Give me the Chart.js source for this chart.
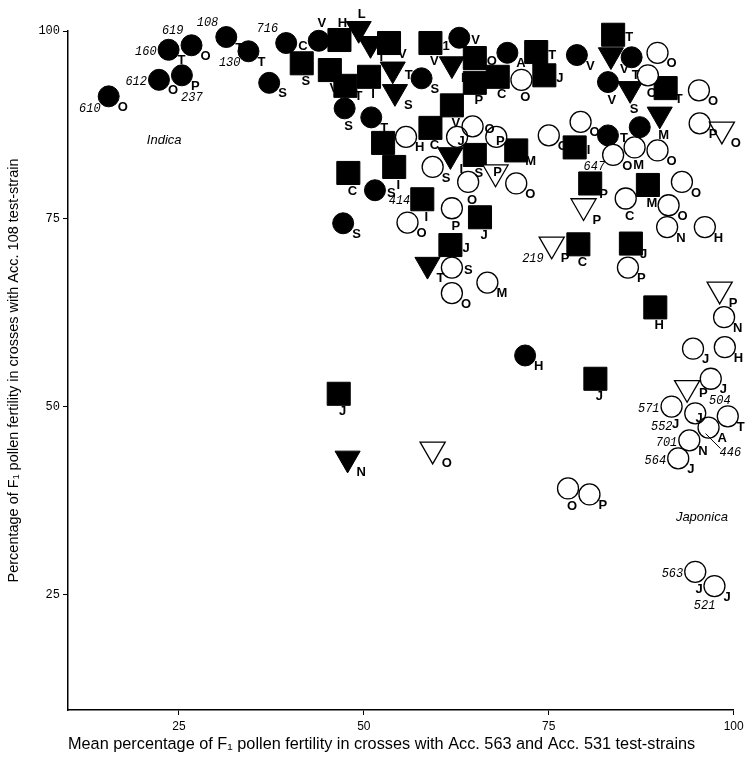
<!DOCTYPE html>
<html><head><meta charset="utf-8">
<script src="https://cdn.jsdelivr.net/npm/chart.js@4/dist/chart.umd.min.js"></script>
<style>html,body{margin:0;padding:0;background:#fff;}canvas{display:block;}</style>
</head><body>
<canvas id="c" width="751" height="764"></canvas>
<script>
// ---- data ----
const xTicks = [25, 50, 75, 100];
const yTicks = [25, 50, 75, 100];
const xTitle = 'Mean percentage of F\u2081 pollen fertility in crosses with Acc. 563 and Acc. 531 test-strains';
const yTitle = 'Percentage of F\u2081 pollen fertility in crosses with Acc. 108 test-strain';

// marker kinds: fc filled circle, fs filled square, ft filled triangle, oc open circle, ot open triangle
const xs = [15.5,22.3,23.6,26.7,25.4,31.4,34.4,37.2,39.5,41.6,43.9,46.7,49.3,50.9,53.4,45.4,47.5,50.7,53.9,54.2,
  47.4,51.0,59.0,62.9,61.9,57.8,65.0,69.4,65.0,68.1,71.3,73.3,74.4,78.8,83.7,83.4,86.2,89.7,88.4,83.0,
  86.0,90.8,95.3,90.0,87.3,95.4,98.4,61.9,64.7,52.6,55.7,59.0,62.6,67.9,70.6,79.3,75.0,78.5,83.0,86.6,
  89.7,83.7,47.9,51.5,54.1,59.3,61.7,65.0,67.8,64.1,70.6,80.6,88.4,85.4,93.0,91.2,91.0,96.1,79.7,75.4,
  79.0,86.1,85.7,57.9,55.9,61.9,65.7,47.2,61.7,58.6,61.9,61.9,66.7,98.1,89.4,98.7,94.5,98.8,71.8,81.3,
  96.9,93.7,91.6,94.8,99.2,96.6,94.0,92.5,77.6,80.5,94.8,97.4,46.6,47.8,59.3];
const ys = [91.3,93.5,97.5,98.1,94.1,99.2,97.3,93.1,98.4,95.7,98.7,98.8,100.3,98.3,98.4,94.8,92.7,93.9,94.9,91.9,
  89.7,88.5,98.4,99.1,95.6,93.7,96.4,97.1,93.1,93.9,93.5,97.2,94.1,96.8,99.5,96.8,96.5,97.1,94.1,93.2,
  92.3,92.4,92.1,88.9,87.2,87.7,86.9,90.1,87.3,85.1,85.9,87.1,85.9,85.9,84.1,87.9,86.1,84.5,86.1,84.5,
  84.1,83.5,81.1,78.8,81.9,81.9,83.5,83.5,81.2,79.9,79.7,79.7,79.5,77.7,79.9,76.8,73.9,73.9,76.7,71.6,
  71.6,71.7,68.5,77.6,74.5,76.4,75.2,74.4,71.5,68.9,68.5,65.1,66.5,65.6,63.2,61.9,57.7,57.9,56.8,53.7,
  53.7,52.5,50.0,49.1,48.7,47.2,45.5,43.1,39.1,38.3,28.0,26.1,51.7,43.1,44.3];
const kinds = ['fc','fc','fc','fc','fc','fc','fc','fc','fc','fs','fc','fs','ft','ft','fs','fs','fs','fs','ft','ft',
  'fc','fc','fs','fc','ft','fc','fs','fc','fs','fs','oc','fs','fs','fc','fs','ft','fc','oc','oc','fc',
  'ft','fs','oc','ft','fc','oc','ot','fs','oc','fs','oc','fs','oc','oc','fs','oc','oc','fs','fc','oc',
  'oc','oc','fs','fc','fs','oc','ft','fs','ot','oc','oc','fs','fs','oc','oc','oc','oc','oc','ot','ot',
  'fs','fs','oc','fs','oc','oc','fs','fc','fs','ft','oc','oc','oc','ot','fs','oc','oc','oc','fc','fs',
  'oc','ot','oc','oc','oc','oc','oc','oc','oc','oc','oc','oc','fs','ft','ot'];
// strain letters / accession numbers (italic flag 1), with placement codes
const pointLabels = [
  [['O','se'],['610','sw',1]], [['O','se'],['612','w',1]], [['T','se'],['160','w',1]], [['O','se'],['619','nw',1]],
  [['P','se'],['237','s2',1]], [['T','se'],['108','nw',1]], [['T','se'],['130','sw',1]], [['S','se']],
  [['C','e'],['716','nw',1]], [['S','s']], [['V','n']], [['H','n']], [['L','n']], [['I','se']], [['V','se']],
  [['V','s']], [['T','se']], [['I','s']], [['T','e']], [['S','se']],
  [['S','s']], [['T','se']], [['1','e'],['V','s']], [['V','e']], [['I','se']], [['S','se']], [['O','e']],
  [['A','se']], [['P','s']], [['C','s']], [['O','s']], [['T','e']], [['J','e']], [['V','se']], [['T','e']],
  [['V','se']], [['T','s']], [['O','se']], [['O','s']], [['V','s']],
  [['S','s']], [['T','se']], [['O','se']], [['M','s']], [], [['P','se']], [['O','se']], [['V','s']], [['O','e']],
  [], [['H','se']], [['C','s']], [['J','in']], [['P','in']], [['M','se']], [['O','se']], [['O','se']], [['I','e']],
  [['T','e']], [['M','s']],
  [['O','se']], [['O','se'],['647','sw',1]], [['C','s']], [['S','e']], [['I','s']], [['S','se']], [['I','se']],
  [['S','s']], [['P','it']], [['O','s']], [['O','se']], [['P','se']], [['M','s']], [['C','s']], [['O','se']],
  [['O','se']], [['N','se']], [['H','se']], [['P','se']], [['P','se'],['219','sw',1]],
  [['C','s']], [['J','se']], [['P','se']], [['I','s'],['414','w',1]], [['O','se']], [['P','s']], [['J','s']],
  [['S','se']], [['J','e']], [['T','se']], [['S','e']], [['O','se']], [['M','se']], [['P','se']], [['H','s']],
  [['N','se']], [['J','se']], [['H','se']], [['H','se']], [['J','s']],
  [['J','se']], [['P','e']], [['571','w',1],['J','s'],['552','sw2',1]], [['J','in']], [['T','se'],['504','nn',1]],
  [['A','se'],['446','se2',1]], [['N','se'],['701','w',1]], [['J','se'],['564','w',1]], [['O','s']], [['P','se']],
  [['J','s'],['563','w',1]], [['J','se'],['521','sw2',1]], [['J','s']], [['N','se']], [['O','se']]
];
const groupNames = ['Indica', 'Japonica'];
const groupX = [23.0, 95.7];
const groupY = [85.5, 35.2];

// ---- styling ----
const dirTable = {se:[9,11,'left'], e:[12,3,'left'], s:[4,18,'center'], n:[3,-17,'center'], in:[4,5,'center'],
  it:[2,-3,'center'], sw:[-8,12,'right'], w:[-12,2,'right'], nw:[-8,-14,'right'], s2:[10,23,'center'],
  sw2:[1,20,'right'], se2:[11,25,'left'], nn:[-8,-15,'center']};

function pts(k){ const a=[]; xs.forEach((x,i)=>{ if(kinds[i]===k) a.push({x:x,y:ys[i]}); }); return a; }
const base = {showLine:false, clip:false, borderColor:'#000'};
const triR = 14.5;
const datasets = [
  Object.assign({}, base, {data:pts('oc'), pointStyle:'circle', pointRadius:10.5, backgroundColor:'rgba(0,0,0,0)', borderWidth:1.3}),
  Object.assign({}, base, {data:pts('ot'), pointStyle:'triangle', rotation:180, pointRadius:triR, backgroundColor:'rgba(0,0,0,0)', borderWidth:1.3}),
  Object.assign({}, base, {data:pts('oc'), pointStyle:'circle', pointRadius:10.5, backgroundColor:'#fff', borderWidth:0}),
  Object.assign({}, base, {data:pts('ot'), pointStyle:'triangle', rotation:180, pointRadius:triR, backgroundColor:'#fff', borderWidth:0}),
  Object.assign({}, base, {data:pts('ft'), pointStyle:'triangle', rotation:180, pointRadius:triR, backgroundColor:'#000', borderWidth:1}),
  Object.assign({}, base, {data:pts('fs'), pointStyle:'rect', pointRadius:16.3, backgroundColor:'#000', borderWidth:1}),
  Object.assign({}, base, {data:pts('fc'), pointStyle:'circle', pointRadius:10.5, backgroundColor:'#000', borderWidth:1})
];

const labelPlugin = {
  id:'labels',
  afterDatasetsDraw(chart){
    const ctx = chart.ctx, xS = chart.scales.x, yS = chart.scales.y;
    ctx.save();
    ctx.fillStyle = '#000'; ctx.strokeStyle = '#000'; ctx.textBaseline = 'middle';
    xs.forEach((xv,i)=>{
      const px = xS.getPixelForValue(xv), py = yS.getPixelForValue(ys[i]);
      const tri = kinds[i]==='ft' || kinds[i]==='ot' ? 3 : 0;
      pointLabels[i].forEach(l=>{
        const d = dirTable[l[1]];
        ctx.font = l[2] ? 'italic 12px "Liberation Mono", monospace' : 'bold 13px "Liberation Sans", Arial, sans-serif';
        ctx.textAlign = d[2];
        ctx.fillText(l[0], px + d[0], py + d[1] + tri);
        if (l[1]==='se2') { ctx.lineWidth=1; ctx.beginPath(); ctx.moveTo(px-3,py+6); ctx.lineTo(px+12,py+21); ctx.stroke(); }
      });
    });
    ctx.font = 'italic 13px "Liberation Sans", Arial, sans-serif';
    ctx.textAlign = 'center';
    groupNames.forEach((g,i)=> ctx.fillText(g, xS.getPixelForValue(groupX[i]), yS.getPixelForValue(groupY[i])));
    ctx.restore();
  }
};

new Chart(document.getElementById('c'), {
  type:'scatter',
  data:{datasets},
  plugins:[labelPlugin],
  options:{
    responsive:false, animation:false,
    layout:{padding:{top:31, right:9, left:0, bottom:0}},
    plugins:{legend:{display:false}, tooltip:{enabled:false}},
    elements:{point:{hoverRadius:0}},
    scales:{
      x:{type:'linear', min:10, max:100,
        afterBuildTicks:s=>{ s.ticks = xTicks.map(v=>({value:v})); },
        afterFit:s=>{ s.height = 54; s.paddingLeft = 0; s.paddingRight = 0; },
        grid:{display:true, drawOnChartArea:false, drawTicks:true, tickLength:5, color:'#000', lineWidth:1},
        border:{display:true, color:'#000', width:1.5},
        ticks:{padding:4, color:'#000', autoSkip:false, maxRotation:0, font:{family:'"Liberation Sans", Arial, sans-serif', size:12}},
        title:{display:true, align:'start', text:xTitle, color:'#000', padding:{top:0, bottom:10}, font:{family:'"Liberation Sans", Arial, sans-serif', size:16.3}}
      },
      y:{type:'linear', min:9.6, max:100,
        afterBuildTicks:s=>{ s.ticks = yTicks.map(v=>({value:v})); },
        afterFit:s=>{ s.width = 68; s.paddingTop = 0; s.paddingBottom = 0; },
        grid:{display:true, drawOnChartArea:false, drawTicks:true, tickLength:5, color:'#000', lineWidth:1},
        border:{display:true, color:'#000', width:1.5},
        ticks:{padding:3, color:'#000', autoSkip:false, font:{family:'"Liberation Mono", monospace', size:12}},
        title:{display:true, text:yTitle, color:'#000', padding:{top:5, bottom:0}, font:{family:'"Liberation Sans", Arial, sans-serif', size:14.5}}
      }
    }
  }
});
</script>
</body></html>
